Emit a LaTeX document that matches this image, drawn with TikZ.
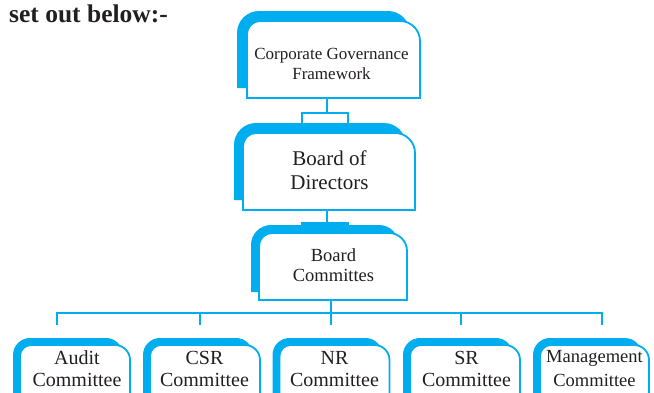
\documentclass[tikz,border=0pt]{standalone}
\usepackage{fontspec}
\setmainfont{Liberation Serif}
\usetikzlibrary{calc}
\definecolor{cgblue}{HTML}{00AEEF}
\definecolor{cgtext}{HTML}{231F20}
% #1 node, #2 dx, #3 dy (back offset), #4 back radius, #5 front left radius, #6 front right radius
\newcommand\cgbox[6]{%
  \fill[cgblue] ([shift={(-#2,-#3)}]#1.south west) -- ([shift={(-#2,-#3+#4)}]#1.north west)
    .. controls ([shift={(-#2,-#3+0.45*#4)}]#1.north west) and ([shift={(-#2+0.45*#4,-#3)}]#1.north west) .. ([shift={(-#2+#4,-#3)}]#1.north west)
    -- ([shift={(-#2-#4,-#3)}]#1.north east)
    .. controls ([shift={(-#2-0.45*#4,-#3)}]#1.north east) and ([shift={(-#2,-#3+0.45*#4)}]#1.north east) .. ([shift={(-#2,-#3+#4)}]#1.north east)
    -- ([shift={(-#2,-#3)}]#1.south east) -- cycle;
  \filldraw[fill=white, draw=cgblue, line width=1.8pt] (#1.south west) -- ([shift={(0,#5)}]#1.north west)
    .. controls ([shift={(0,0.45*#5)}]#1.north west) and ([shift={(0.45*#5,0)}]#1.north west) .. ([shift={(#5,0)}]#1.north west)
    -- ([shift={(-#6,0)}]#1.north east)
    .. controls ([shift={(-0.45*#6,0)}]#1.north east) and ([shift={(0,0.45*#6)}]#1.north east) .. ([shift={(0,#6)}]#1.north east)
    -- (#1.south east) -- cycle;
}
\begin{document}
\begin{tikzpicture}[x=1pt,y=-1pt,
  boxn/.style={rectangle, inner sep=0pt, outer sep=0pt},
  conn/.style={draw=cgblue, line width=1.8pt},
  lbl/.style={text=cgtext, align=center, inner sep=0pt}]
\clip (0,0) rectangle (654,392);
\fill[white] (0,0) rectangle (654,392);

\node[anchor=base west, inner sep=0pt, text=cgtext, font=\bfseries\fontsize{25.5}{25.5}\selectfont] (title) at (9,22) {set out below:-};

% box nodes
\node[boxn, minimum width=173pt, minimum height=77pt] (cgf) at (333.5,59.5) {};
\node[boxn, minimum width=172pt, minimum height=77pt] (bod) at (329,171.5) {};
\node[boxn, minimum width=148pt, minimum height=67pt] (bc) at (333,266.5) {};
\node[boxn, minimum width=110pt, minimum height=55pt] (audit) at (75,372.5) {};
\node[boxn, minimum width=110pt, minimum height=55pt] (csr) at (205,372.5) {};
\node[boxn, minimum width=110pt, minimum height=55pt] (nr) at (334.5,372.5) {};
\node[boxn, minimum width=110pt, minimum height=55pt] (sr) at (465,372.5) {};
\node[boxn, minimum width=109pt, minimum height=55pt] (mgmt) at (594.5,372.5) {};

\cgbox{cgf}{10}{10}{22}{13}{20}
\cgbox{bod}{9}{10}{22}{13}{20}
\cgbox{bc}{8}{8}{20}{13}{18}
\cgbox{audit}{7}{7}{17}{11}{15}
\cgbox{csr}{7}{7}{17}{11}{15}
\cgbox{nr}{7}{7}{17}{11}{15}
\cgbox{sr}{7}{7}{17}{11}{15}
\cgbox{mgmt}{7}{7}{17}{11}{15}

% texts
\node[lbl, font=\fontsize{17}{20}\selectfont] (cgf-t) at (331.5,63.5) {Corporate Governance\\Framework};
\node[lbl, font=\fontsize{21}{24}\selectfont] (bod-t) at (329.5,170) {Board of\\Directors};
\node[lbl, font=\fontsize{18.5}{20}\selectfont] (bc-t) at (333.5,265.5) {Board\\Committes};
\node[lbl, font=\fontsize{20}{22}\selectfont] (audit-t) at (77,369) {Audit\\Committee};
\node[lbl, font=\fontsize{20}{22}\selectfont] (csr-t) at (204.5,369) {CSR\\Committee};
\node[lbl, font=\fontsize{20}{22}\selectfont] (nr-t) at (334.5,369) {NR\\Committee};
\node[lbl, font=\fontsize{20}{22}\selectfont] (sr-t) at (466.5,369) {SR\\Committee};
\node[lbl, font=\fontsize{18.5}{24}\selectfont] (mgmt-t) at (594.5,369) {Management\\Committee};

% connector CGF -> BoD
\coordinate (j1) at (327,113);
\coordinate (j1l) at (302,113);
\coordinate (j1r) at (348,113);
\draw[conn] (j1 |- cgf.south) -- (j1);
\draw[conn] ($(j1l)+(0,10)$) -- (j1l) -- (j1r) -- ($(j1r)+(0,10)$);

% connector BoD -> BC
\coordinate (j2) at (327,223);
\coordinate (j2l) at (302,223);
\coordinate (j2r) at (348,223);
\draw[conn] (j2 |- bod.south) -- (j2);
\fill[cgblue] ($(j2l)+(-0.9,-0.9)$) rectangle ($(j2r)+(0.9,4)$);

% bus to committees
\coordinate (b1) at (57,325);
\coordinate (b2) at (200,325);
\coordinate (b3) at (331,325);
\coordinate (b4) at (461,325);
\coordinate (b5) at (602,325);
\coordinate (busL) at (57,313);
\coordinate (busR) at (602,313);
\draw[conn] (b3 |- bc.south) -- (b3);
\draw[conn] (b1) -- (busL) -- (busR) -- (b5);
\draw[conn] (b2 |- busL) -- (b2);
\draw[conn] (b4 |- busL) -- (b4);
\end{tikzpicture}
\end{document}
